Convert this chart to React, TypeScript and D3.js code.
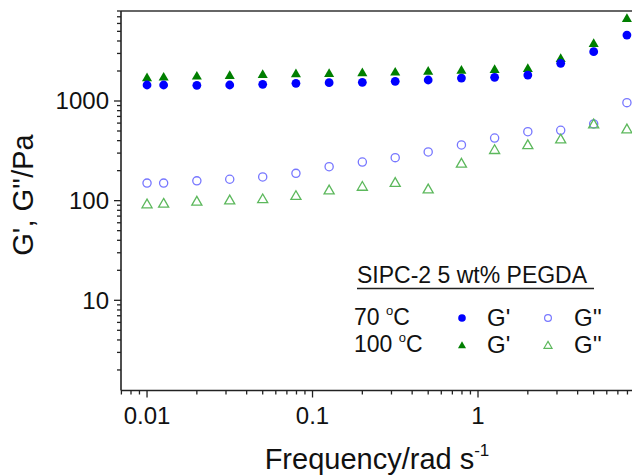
import React from "react";
import * as d3 from "d3";

const freq = [0.01, 0.0126, 0.02, 0.0316, 0.05, 0.0794, 0.126, 0.2, 0.316, 0.5, 0.794, 1.26, 2.0, 3.16, 5.0, 7.94];
const gp70 = [1447, 1447, 1437, 1447, 1470, 1504, 1527, 1540, 1575, 1624, 1700, 1728, 1822, 2388, 3124, 4589];
const gpp70 = [150, 150, 158, 164, 173, 188, 219, 244, 270, 308, 362, 425, 492, 508, 588, 962];
const gp100 = [1688, 1713, 1753, 1780, 1822, 1853, 1865, 1895, 1923, 1967, 2012, 2048, 2093, 2640, 3728, 6640];
const gpp100 = [90.7, 92, 96.5, 99.4, 102, 110, 125, 136, 149, 128, 232, 318, 356, 406, 575, 512];

const xTickLabels = ["0.01", "0.1", "1"];
const yTickLabels = ["10", "100", "1000"];

const W = 632;
const H = 476;
const FONT = "'Liberation Sans', Arial, sans-serif";

export default function App() {
  const x = d3.scaleLog().domain([0.007, 12]).range([121.4, 656.6]);
  const y = d3.scaleLog().domain([1.25, 8000]).range([390.3, 11]);
  const left = 121;
  const bottom = 390.5;
  const top = 11;

  const xMinor: number[] = [];
  for (let e = -3; e <= 1; e++) {
    for (let m = 1; m <= 9; m++) {
      const v = m * Math.pow(10, e);
      if (v >= 0.007 && v <= 12) xMinor.push(v);
    }
  }
  const yMinor: number[] = [];
  for (let e = 0; e <= 3; e++) {
    for (let m = 1; m <= 9; m++) {
      const v = m * Math.pow(10, e);
      if (v >= 1.25 && v <= 8000) yMinor.push(v);
    }
  }

  const tri = d3.symbol().type(d3.symbolTriangle).size(44)() as string;
  const triSmall = d3.symbol().type(d3.symbolTriangle).size(28)() as string;

  const blue = "#0000ff";
  const green = "#007f00";
  const lblue = "#7777ff";
  const lgreen = "#5cb85c";

  return (
    <svg width={W} height={H} style={{ position: "absolute", left: 0, top: 0 }} fontFamily={FONT}>
      <rect width={W} height={H} fill="#fff" />
      {/* frame */}
      <line x1={left} x2={W} y1={top} y2={top} stroke="#666" strokeWidth={2.2} />
      <line x1={left} x2={left} y1={top} y2={bottom} stroke="#222" strokeWidth={1.6} />
      <line x1={left} x2={W} y1={bottom} y2={bottom} stroke="#222" strokeWidth={1.6} />
      {/* x ticks */}
      {xMinor.map((v, i) => {
        const major = Math.abs(Math.log10(v) - Math.round(Math.log10(v))) < 1e-9;
        return (
          <line key={"xm" + i} x1={x(v)} x2={x(v)} y1={bottom} y2={bottom + (major ? 7 : 4)} stroke="#222" strokeWidth={1.3} />
        );
      })}
      {xTickLabels.map((t) => (
        <text key={t} x={x(+t)} y={424} fontSize={24} textAnchor="middle" fill="#111">
          {t}
        </text>
      ))}
      {/* y ticks */}
      {yMinor.map((v, i) => {
        const major = Math.abs(Math.log10(v) - Math.round(Math.log10(v))) < 1e-9;
        return (
          <line key={"ym" + i} x1={left - (major ? 7 : 4)} x2={left} y1={y(v)} y2={y(v)} stroke="#222" strokeWidth={1.3} />
        );
      })}
      {yTickLabels.map((t) => (
        <text key={t} x={109} y={y(+t) + 8.5} fontSize={24} textAnchor="end" fill="#111">
          {t}
        </text>
      ))}
      {/* axis titles */}
      <text transform="translate(33,195) rotate(-90)" fontSize={29} textAnchor="middle" fill="#111">
        G', G''/Pa
      </text>
      <text x={377} y={469} fontSize={29} textAnchor="middle" fill="#111">
        Frequency/rad s<tspan fontSize={17} dy={-13}>-1</tspan>
      </text>
      {/* data */}
      {freq.map((f, i) => (
        <circle key={"c70" + i} cx={x(f)} cy={y(gpp70[i])} r={4.1} fill="none" stroke={lblue} strokeWidth={1.3} />
      ))}
      {freq.map((f, i) => (
        <path key={"t100" + i} d={tri} transform={`translate(${x(f)},${y(gpp100[i])})`} fill="none" stroke={lgreen} strokeWidth={1.3} />
      ))}
      {freq.map((f, i) => (
        <path key={"T100" + i} d={tri} transform={`translate(${x(f)},${y(gp100[i])})`} fill={green} />
      ))}
      {freq.map((f, i) => (
        <circle key={"C70" + i} cx={x(f)} cy={y(gp70[i])} r={4.4} fill={blue} />
      ))}
      {/* legend */}
      <text x={357} y={283} fontSize={23} fill="#111">
        SIPC-2 5 wt% PEGDA
      </text>
      <line x1={357} x2={594} y1={288.5} y2={288.5} stroke="#222" strokeWidth={1.5} />
      <text x={354} y={325} fontSize={23} fill="#111">
        70 <tspan fontSize={13} dy={-10}>o</tspan>
        <tspan dy={10}>C</tspan>
      </text>
      <text x={354} y={352} fontSize={23} fill="#111">
        100 <tspan fontSize={13} dy={-10}>o</tspan>
        <tspan dy={10}>C</tspan>
      </text>
      <circle cx={462} cy={318} r={3.8} fill={blue} />
      <path d={triSmall} transform="translate(462,346)" fill={green} />
      <text x={487} y={326} fontSize={24} fill="#111">G'</text>
      <text x={487} y={353} fontSize={24} fill="#111">G'</text>
      <circle cx={548} cy={318} r={3.4} fill="none" stroke={lblue} strokeWidth={1.2} />
      <path d={triSmall} transform="translate(548,346)" fill="none" stroke={lgreen} strokeWidth={1.2} />
      <text x={574} y={326} fontSize={24} fill="#111">G''</text>
      <text x={574} y={353} fontSize={24} fill="#111">G''</text>
    </svg>
  );
}
